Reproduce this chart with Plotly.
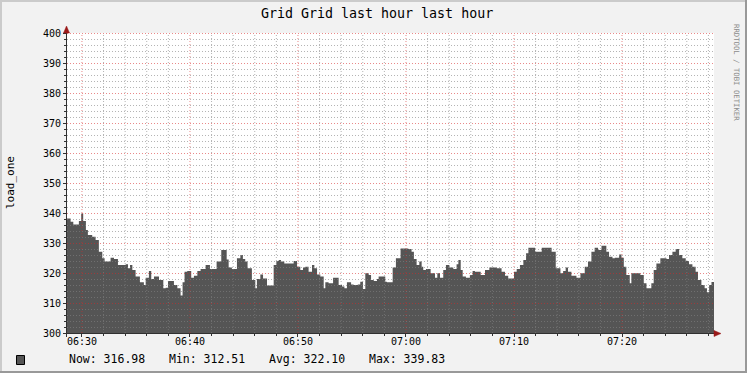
import plotly.graph_objects as go
import pandas as pd

title_text = "Grid Grid last hour last hour"
y_label = "load_one"
watermark = "RRDTOOL / TOBI OETIKER"

# sample start times, seconds after 06:30:00
seconds = [
    -83, -63, -48, -17, -4, 7, 22, 33, 57, 76, 94, 113, 126, 159, 178, 200,
    243, 256, 267, 280, 298, 322, 344, 354, 372, 385, 400, 428, 452, 465, 478, 511,
    530, 548, 559, 570, 585, 607, 622, 641, 659, 687, 711, 748, 774, 804, 815, 833,
    861, 880, 894, 907, 920, 944, 963, 972, 991, 1006, 1028, 1065, 1080, 1093, 1106, 1124,
    1176, 1195, 1213, 1228, 1241, 1259, 1278, 1291, 1306, 1324, 1343, 1352, 1370, 1395, 1426, 1445,
    1458, 1472, 1495, 1509, 1532, 1546, 1561, 1574, 1593, 1606, 1621, 1639, 1648, 1685, 1694, 1726,
    1744, 1770, 1813, 1831, 1844, 1859, 1874, 1887, 1896, 1911, 1937, 1961, 1974, 1989, 2007, 2022,
    2041, 2063, 2081, 2091, 2104, 2115, 2133, 2155, 2170, 2183, 2215, 2239, 2263, 2304, 2331, 2350,
    2368, 2400, 2415, 2433, 2452, 2467, 2480, 2517, 2554, 2609, 2632, 2658, 2673, 2687, 2700, 2719,
    2747, 2769, 2793, 2811, 2830, 2848, 2867, 2886, 2913, 2928, 2947, 2960, 2984, 2997, 3010, 3024,
    3043, 3052, 3102, 3121, 3136, 3163, 3176, 3191, 3213, 3247, 3261, 3280, 3298, 3317, 3335, 3354,
    3372, 3391, 3409, 3422, 3441, 3459, 3472, 3484, 3497, 3511,
]
load_one = [
    338.2, 337.1, 336.2, 337.3, 339.83, 337.3, 334.3, 332.7, 332.1, 331.0, 327.1, 324.9, 323.8, 325.1, 324.7, 322.7,
    322.9, 321.6, 322.7, 321.0, 318.8, 316.9, 316.0, 318.4, 320.7, 318.0, 318.8, 317.7, 314.9, 315.1, 317.3, 316.0,
    314.9, 312.51, 316.9, 320.4, 320.7, 318.4, 319.1, 320.7, 321.3, 322.7, 321.3, 323.8, 327.7, 324.5, 321.8, 321.3,
    324.9, 326.0, 324.7, 323.8, 321.6, 317.7, 314.9, 318.0, 319.5, 318.2, 315.8, 322.7, 324.0, 324.3, 323.8, 323.2,
    324.0, 322.1, 321.0, 321.8, 322.1, 320.4, 322.7, 321.6, 319.5, 318.8, 314.9, 316.9, 316.6, 318.4, 316.0, 315.5,
    314.9, 316.9, 316.2, 316.0, 316.2, 317.1, 314.7, 319.9, 319.3, 317.7, 317.3, 318.0, 318.8, 317.1, 316.9, 321.8,
    324.9, 328.2, 328.0, 327.1, 324.7, 322.7, 323.8, 322.1, 321.0, 321.3, 319.9, 318.4, 319.9, 318.4, 321.0, 322.7,
    321.8, 321.3, 322.9, 324.3, 321.0, 318.8, 318.4, 319.3, 320.7, 320.4, 319.3, 321.0, 321.8, 321.6, 320.4, 319.1,
    318.2, 320.4, 321.3, 322.7, 324.3, 326.6, 328.4, 327.1, 328.4, 327.1, 321.6, 319.9, 320.7, 321.8, 320.4, 319.1,
    318.4, 319.9, 322.1, 323.8, 327.1, 328.4, 327.7, 329.1, 327.1, 325.4, 324.9, 325.1, 326.2, 325.1, 322.1, 319.3,
    316.6, 319.9, 319.3, 316.6, 314.9, 316.6, 321.0, 323.2, 324.9, 324.7, 326.0, 327.1, 328.0, 326.0, 324.9, 324.0,
    322.9, 322.1, 320.4, 317.7, 316.0, 314.9, 313.6, 316.0, 316.98, 316.98,
]
assert len(seconds) == len(load_one)

x_tick_labels = ["06:30", "06:40", "06:50", "07:00", "07:10", "07:20"]
y_ticks = [300, 310, 320, 330, 340, 350, 360, 370, 380, 390, 400]
stat_names = ["Now:", "Min:", "Avg:", "Max:"]
stat_values = [316.98, 312.51, 322.10, 339.83]

base = pd.Timestamp("2024-01-01 06:30:00")
times = [base + pd.Timedelta(seconds=s) for s in seconds]
x_start = times[0]
x_end = times[-1]

MONO = "DejaVu Sans Mono"
W, H = 747, 373
L, R, T, B = 67, 33, 33, 40
PW, PH = W - L - R, H - T - B
Y_MIN, Y_MAX = 300, 400


def px(X):
    return (X - L) / PW


def py(Y):
    return (H - B - Y) / PH


fig = go.Figure()
fig.add_trace(go.Scatter(
    x=times, y=load_one, mode="lines", line=dict(width=0, shape="hv"),
    fill="tozeroy", fillcolor="#555555", showlegend=False, hoverinfo="x+y",
))

shapes = []
minor_col = "rgba(130,130,130,0.6)"
major_col = "rgba(215,40,40,0.55)"
half_px_y = 0.5 / PH
# vertical grid every 2 minutes, major every 10 minutes
m = 0
while True:
    t = base + pd.Timedelta(minutes=m)
    if t > x_end:
        break
    if t >= x_start:
        major = (m % 10 == 0)
        shapes.append(dict(type="line", xref="x", yref="paper", x0=t, x1=t, y0=0, y1=1,
                           line=dict(color=major_col if major else minor_col, width=1, dash="1px,2px"),
                           layer="above"))
    m += 2
# horizontal grid every 2, major every 10
for v in range(302, 401, 2):
    major = (v % 10 == 0)
    yp = (v - Y_MIN) / (Y_MAX - Y_MIN) - half_px_y
    shapes.append(dict(type="line", xref="paper", yref="paper", x0=0, x1=1, y0=yp, y1=yp,
                       line=dict(color=major_col if major else minor_col, width=1, dash="1px,2px"),
                       layer="above"))

axis_col = "#303030"
arrow_col = "#9a1a1a"
# axes lines
shapes.append(dict(type="line", xref="paper", yref="paper", x0=px(63), x1=px(716), y0=py(333.5), y1=py(333.5),
                   line=dict(color=axis_col, width=1), layer="above"))
shapes.append(dict(type="line", xref="paper", yref="paper", x0=px(66.5), x1=px(66.5), y0=py(337), y1=py(30),
                   line=dict(color=axis_col, width=1), layer="above"))
# arrows
shapes.append(dict(type="path", xref="paper", yref="paper", layer="above",
                   path=f"M {px(63.5)} {py(33)} L {px(69.5)} {py(33)} L {px(66.5)} {py(26)} Z",
                   fillcolor=arrow_col, line=dict(color=arrow_col, width=0.5)))
shapes.append(dict(type="path", xref="paper", yref="paper", layer="above",
                   path=f"M {px(714)} {py(330.5)} L {px(714)} {py(336.5)} L {px(721)} {py(333.5)} Z",
                   fillcolor=arrow_col, line=dict(color=arrow_col, width=0.5)))
# legend swatch
shapes.append(dict(type="rect", xref="paper", yref="paper", x0=px(16.5), x1=px(24.5), y0=py(355.5), y1=py(364.5),
                   fillcolor="#555555", line=dict(color="#000000", width=1)))
# image border
shapes.append(dict(type="line", xref="paper", yref="paper", x0=px(1), x1=px(1), y0=py(0), y1=py(373),
                   line=dict(color="#CBCBCB", width=2)))
shapes.append(dict(type="line", xref="paper", yref="paper", x0=px(0), x1=px(747), y0=py(1), y1=py(1),
                   line=dict(color="#CBCBCB", width=2)))
shapes.append(dict(type="line", xref="paper", yref="paper", x0=px(746), x1=px(746), y0=py(0), y1=py(373),
                   line=dict(color="#999999", width=2)))
shapes.append(dict(type="line", xref="paper", yref="paper", x0=px(0), x1=px(747), y0=py(372), y1=py(372),
                   line=dict(color="#999999", width=2)))

annotations = [
    dict(text=title_text, xref="paper", yref="paper", x=px(377), y=py(13), xanchor="center", yanchor="middle",
         showarrow=False, font=dict(family=MONO, size=13.3, color="#000000")),
    dict(text=y_label, xref="paper", yref="paper", x=px(10), y=py(183), xanchor="center", yanchor="middle",
         textangle=-90, showarrow=False, font=dict(family=MONO, size=11, color="#000000")),
    dict(text=watermark, xref="paper", yref="paper", x=px(737), y=py(72), xanchor="center", yanchor="middle",
         textangle=90, showarrow=False, font=dict(family=MONO, size=7.3, color="#8c8c8c")),
]
for i, (n, v) in enumerate(zip(stat_names, stat_values)):
    annotations.append(dict(text=f"{n} {v:.2f}", xref="paper", yref="paper", x=px(67 + 100 * i), y=py(359),
                            xanchor="left", yanchor="middle", showarrow=False,
                            font=dict(family=MONO, size=11.5, color="#000000")))

tick_times = [pd.Timestamp("2024-01-01 " + s) for s in x_tick_labels]

fig.update_layout(
    width=W, height=H,
    margin=dict(l=L, r=R, t=T, b=B, pad=0),
    paper_bgcolor="#F2F2F2", plot_bgcolor="#FFFFFF",
    shapes=shapes, annotations=annotations,
    font=dict(family=MONO, size=10, color="#000000"),
    xaxis=dict(type="date", range=[x_start, x_end], tickvals=tick_times, ticktext=x_tick_labels,
               showgrid=False, zeroline=False, showline=False,
               ticks="outside", ticklen=3, tickcolor=axis_col, ticklabelstandoff=-4,
               tickfont=dict(family=MONO, size=10, color="#000000"),
               minor=dict(ticks="outside", ticklen=2, dtick=120000, tickcolor=axis_col, showgrid=False)),
    yaxis=dict(range=[Y_MIN, Y_MAX], tickvals=y_ticks, showgrid=False, zeroline=False, showline=False,
               ticks="outside", ticklen=3, tickcolor=axis_col,
               tickfont=dict(family=MONO, size=10, color="#000000"),
               minor=dict(ticks="outside", ticklen=2, dtick=2, tickcolor=axis_col, showgrid=False)),
    hovermode=False,
)

fig.write_html("out.html")
